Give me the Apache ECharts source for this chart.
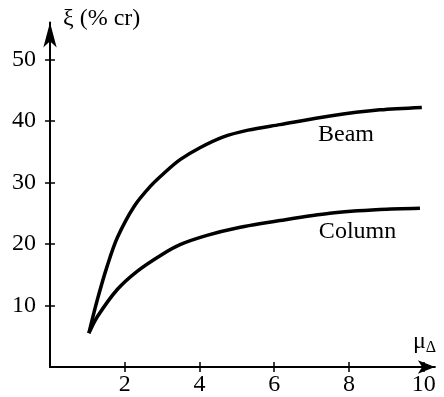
<!DOCTYPE html>
<html>
<head>
<meta charset="utf-8">
<script src="https://cdn.jsdelivr.net/npm/echarts@6/dist/echarts.min.js"></script>
<style>
  html, body { margin: 0; padding: 0; background: #fff; }
  #chart { width: 444px; height: 397px; }
</style>
</head>
<body>
<div id="chart"></div>
<script>
var xTicks = [2, 4, 6, 8, 10];
var yTicks = [10, 20, 30, 40, 50];

var beamData = [
  [1.04, 5.5], [1.27, 11.0], [1.53, 16.4], [1.80, 21.0], [2.25, 26.1],
  [2.69, 29.4], [3.05, 31.5], [3.48, 33.7], [4.0, 35.6], [4.64, 37.4],
  [5.3, 38.5], [6.15, 39.4], [7.49, 40.8], [8.83, 41.8], [9.95, 42.2]
];
var columnData = [
  [1.04, 5.5], [1.27, 8.2], [1.80, 12.6], [2.34, 15.6], [3.0, 18.3],
  [3.48, 19.9], [4.2, 21.4], [5.0, 22.6], [6.15, 23.8], [7.49, 25.0],
  [8.83, 25.6], [9.9, 25.8]
];

var font = 'Liberation Serif';
var fs = 24;

var chartDom = document.getElementById('chart');
var myChart = echarts.init(chartDom);

function xAxisOf(tickInside, main) {
  return {
    type: 'value',
    min: 0,
    max: 10.3,
    position: 'bottom',
    axisLine: main ? {
      show: true,
      symbol: ['none', 'arrow'],
      symbolSize: [10, 17],
      lineStyle: { color: '#000', width: 2 }
    } : { show: false },
    axisTick: {
      show: true,
      inside: tickInside,
      length: 5,
      customValues: xTicks,
      lineStyle: { color: '#000', width: 1.5 }
    },
    axisLabel: {
      show: main,
      customValues: xTicks,
      margin: 6,
      color: '#000',
      fontFamily: font,
      fontSize: fs
    },
    splitLine: { show: false }
  };
}

function yAxisOf(tickInside, main) {
  return {
    type: 'value',
    min: 0,
    max: 56,
    position: 'left',
    axisLine: main ? {
      show: true,
      symbol: ['none', 'arrow'],
      symbolSize: [10, 25],
      lineStyle: { color: '#000', width: 2 }
    } : { show: false },
    axisTick: {
      show: true,
      inside: tickInside,
      length: 5,
      customValues: yTicks,
      lineStyle: { color: '#000', width: 1.5 }
    },
    axisLabel: {
      show: main,
      customValues: yTicks,
      margin: 14,
      color: '#000',
      fontFamily: font,
      fontSize: fs
    },
    splitLine: { show: false }
  };
}

function curve(name, data, labelAt) {
  return {
    name: name,
    type: 'line',
    data: data,
    smooth: 0.3,
    symbol: 'none',
    lineStyle: { color: '#000', width: 3.5 },
    markPoint: {
      symbol: 'circle',
      symbolSize: 0,
      data: [{ coord: labelAt }],
      label: {
        show: true,
        position: 'inside',
        formatter: name,
        color: '#000',
        fontFamily: font,
        fontSize: fs
      }
    }
  };
}

var option = {
  animation: false,
  grid: { left: 50, right: 9.1, top: 22.5, bottom: 29.5 },
  xAxis: [xAxisOf(false, true), xAxisOf(true, false)],
  yAxis: [yAxisOf(false, true), yAxisOf(true, false)],
  graphic: [
    {
      type: 'text',
      left: 63,
      top: 7,
      style: { text: 'ξ (% cr)', fill: '#000', font: fs + 'px "Liberation Serif"' }
    },
    {
      type: 'text',
      left: 413,
      top: 330,
      style: {
        text: '{a|μ}{b|Δ}',
        rich: {
          a: { fontFamily: font, fontSize: fs, fill: '#000' },
          b: { fontFamily: font, fontSize: 16, fill: '#000', padding: [12, 0, 0, 0] }
        }
      }
    }
  ],
  series: [
    curve('Beam', beamData, [7.92, 37.7]),
    curve('Column', columnData, [8.23, 22.0])
  ]
};

myChart.setOption(option);
window.addEventListener('resize', function () { myChart.resize(); });
</script>
</body>
</html>
